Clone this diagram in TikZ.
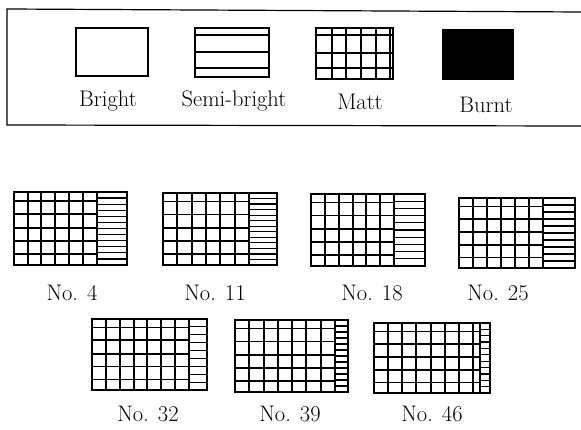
\documentclass[tikz,border=0pt]{standalone}
\tikzset{
  frame/.style={line width=2.1pt, line join=miter},
  gridline/.style={line width=1.7pt},
  stripe/.style={line width=1.2pt},
  lbl/.style={anchor=base, inner sep=0pt, font=\fontsize{22.5}{26}\selectfont},
}
% #1 x0, #2 y0, #3 x1, #4 y1, #5 end of matt rows (divider), #6 verticals, #7 number of stripes, #8 start of stripes
\newcommand\samplegrid[8]{%
  \pgfmathsetmacro\hh{#4-#2}%
  \foreach \vx in {#6} { \draw[gridline] (\vx,#2) -- (\vx,#4); }
  \foreach \f in {0.12,0.30,0.49,0.67,0.85} { \draw[gridline] (#1,{#2+\f*\hh}) -- (#5,{#2+\f*\hh}); }
  \pgfmathsetmacro\sh{\hh/(#7+1)}%
  \foreach \k in {1,...,#7} { \draw[stripe] (#8,{#2+\k*\sh}) -- (#3,{#2+\k*\sh}); }
  \draw[frame] (#5,#2) -- (#5,#4);
  \draw[frame] (#1,#2) rectangle (#3,#4);
}
\begin{document}
\begin{tikzpicture}[x=1pt, y=-1pt]
\useasboundingbox (0,0) rectangle (581,430);
% legend frame
\coordinate (ftl) at (7,9);
\coordinate (fbl) at (7,125);
\coordinate (ftr) at (581,12);
\coordinate (fbr) at (581,126);
\draw[line width=1.2pt] (ftr) -- (ftl) -- (fbl) -- (fbr);
% legend swatches
\draw[frame] (76,28) rectangle (148,76);
\draw[frame] (195,28) rectangle (269,77);
\foreach \y in {35,52,68} { \draw[gridline] (195,\y) -- (269,\y); }
\foreach \x in {332,346,361,376,390} { \draw[gridline] (\x,28) -- (\x,79); }
\foreach \y in {35,53,68} { \draw[gridline] (316,\y) -- (393,\y); }
\draw[frame] (316,28) rectangle (393,79);
\fill (442,29) rectangle (514,80);
\node[lbl] (lb1) at (108,107) {Bright};
\node[lbl] (lb2) at (234,107) {Semi-bright};
\node[lbl] (lb3) at (360,110) {Matt};
\node[lbl] (lb4) at (486,113) {Burnt};
% samples, first row
\samplegrid{14}{192}{127}{265}{97}{28,41,55,69,83,97}{11}{97}
\samplegrid{163}{193}{277}{265}{249}{177,192,206,220,235,249}{12}{249}
\samplegrid{311}{194}{425}{266}{394}{325,339,353,366,380,394}{9}{394}
\samplegrid{459}{198}{575}{268}{543}{473,487,501,515,529,543}{9}{543}
\node[lbl] (n4) at (72,301) {No. 4};
\node[lbl] (n11) at (215,301) {No. 11};
\node[lbl] (n18) at (372,301) {No. 18};
\node[lbl] (n25) at (498,301) {No. 25};
% samples, second row
\samplegrid{92}{319}{207}{390}{189}{106,120,134,147,161,175,189}{8}{189}
\samplegrid{235}{320}{348}{392}{335}{249,264,278,292,306,321,335}{11}{335}
\samplegrid{374}{323}{490}{393}{480}{388,402,416,431,445,459,473,480}{10}{480}
\node[lbl] (n32) at (148,421) {No. 32};
\node[lbl] (n39) at (290,421) {No. 39};
\node[lbl] (n46) at (432,421) {No. 46};
\end{tikzpicture}
\end{document}
